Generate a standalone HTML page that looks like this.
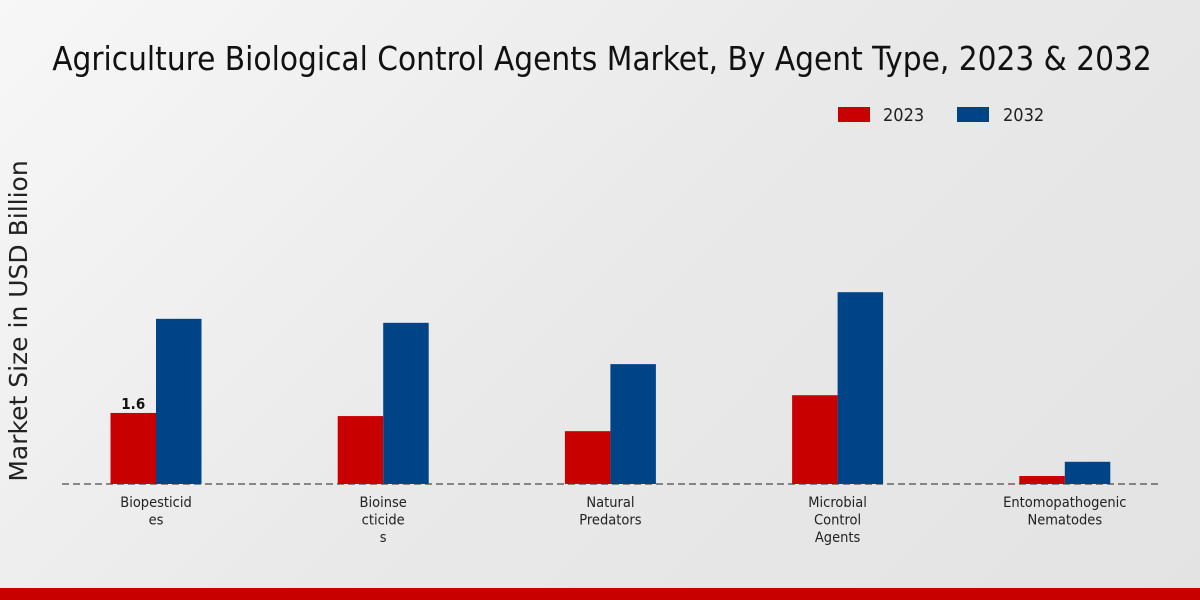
<!DOCTYPE html>
<html><head><meta charset="utf-8"><style>
body{margin:0;width:1200px;height:600px;overflow:hidden;font-family:"DejaVu Sans Condensed","DejaVu Sans","Liberation Sans",sans-serif;}
#bg{position:absolute;left:0;top:0;width:1200px;height:600px;background:linear-gradient(135deg,#f7f7f7 0%,#e9e9e9 50%,#e3e3e3 100%);}
</style></head><body>
<div id="bg"></div>
<svg id="c" width="1200" height="600" style="position:absolute;left:0;top:0">
<text x="602" y="70" text-anchor="middle" font-size="33" fill="#111" style="font-stretch:condensed">Agriculture Biological Control Agents Market, By Agent Type, 2023 &amp; 2032</text>
<g>
<rect x="838" y="107" width="32" height="15" fill="#c80000"/>
<text x="883" y="121" font-size="18" fill="#222">2023</text>
<rect x="957" y="107" width="32" height="15" fill="#004488"/>
<text x="1003" y="121" font-size="18" fill="#222">2032</text>
</g>
<text transform="translate(27,321) rotate(-90)" text-anchor="middle" font-size="25" fill="#222" font-family="DejaVu Sans, sans-serif">Market Size in USD Billion</text>
<line x1="62" y1="484" x2="1160" y2="484" stroke="#222" stroke-dasharray="7,4"/>
<g id="bars"></g>
<rect x="0" y="588" width="1200" height="12" fill="#c80000"/>
</svg>
<script>
const categories=[["Biopesticid","es"],["Bioinse","cticide","s"],["Natural","Predators"],["Microbial","Control","Agents"],["Entomopathogenic","Nematodes"]];
const values2023=[1.6,1.53,1.19,2.0,0.18];
const values2032=[3.72,3.63,2.7,4.32,0.5];
const ns="http://www.w3.org/2000/svg";
const g=document.getElementById('bars');
const base=484, ppu=44.4, x0=156, step=227.2, bw=45.5;
const yS=v=>base-v*ppu;
function mk(t,a){const e=document.createElementNS(ns,t);for(const k in a)e.setAttribute(k,a[k]);g.appendChild(e);return e;}
categories.forEach((cat,i)=>{
  const cx=x0+i*step;
  const r=mk('rect',{x:cx-bw,y:yS(values2023[i]),width:bw,height:values2023[i]*ppu,fill:'#c80000'});
  
  
  const b=mk('rect',{x:cx,y:yS(values2032[i]),width:bw,height:values2032[i]*ppu,fill:'#004488'});
  
  
  cat.forEach((line,j)=>{
    const t=mk('text',{x:cx,y:507+j*17.5,'text-anchor':'middle','font-size':'14.5',fill:'#222'});
    t.textContent=line;
    
    
  });
  if(i===0){
    const l=mk('text',{x:cx-bw/2,y:yS(values2023[i])-4,'text-anchor':'middle','font-size':'15','font-weight':'bold',fill:'#111'});
    l.textContent=values2023[i];
    
    
  }
});
</script>
</body></html>
